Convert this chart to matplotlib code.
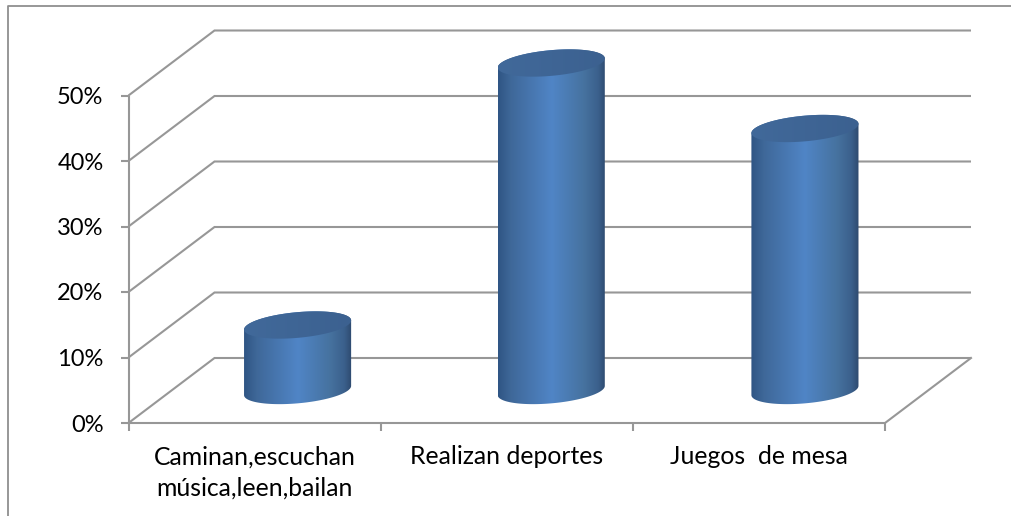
#coding:utf-8

import numpy as np
import matplotlib
matplotlib.use('Agg')
import matplotlib.pyplot as plt
from matplotlib.colors import LinearSegmentedColormap
from matplotlib.lines import Line2D
from matplotlib.patches import Polygon

categories = ['Caminan,escuchan\nmúsica,leen,bailan', 'Realizan deportes', 'Juegos  de mesa']
values = [0.10, 0.50, 0.40]
ticks = [0.0, 0.1, 0.2, 0.3, 0.4, 0.5]
tick_labels = ['0%', '10%', '20%', '30%', '40%', '50%']

W, H = 1011, 516
GRID = '#979797'
LW = 1.5

# pixel frame of the front plane
x0_px, x1_px = 128.5, 885.0
y0_px, y50_px = 423.0, 95.5
px_cat = (x1_px - x0_px) / 3
px_val = (y0_px - y50_px) / 0.5

# depth of the box in data units
depth_x = 86.0 / px_cat
depth_y = 65.0 / px_val

bar_half = 50.4 / px_cat
bar_step = 1.006
round_k = 0.21

body_cmap = LinearSegmentedColormap.from_list('body', [
    (0.0, '#2f5584'), (0.12, '#3f6899'), (0.5, '#5085c6'),
    (0.8, '#46729f'), (0.93, '#3b608c'), (1.0, '#2e4a6e')])
top_cmap = LinearSegmentedColormap.from_list('top', ['#41699a', '#3c6190'])


def ellipse(cx, cy, t):
    bx = depth_x * round_k
    by = depth_y * round_k
    return np.column_stack((cx + bar_half * np.cos(t) + bx * np.sin(t), cy + by * np.sin(t)))


def draw_grid(ax):
    for v in ticks:
        # side wall then back wall
        ax.plot([0, depth_x, 3 + depth_x], [v, v + depth_y, v + depth_y],
                color=GRID, lw=LW, solid_capstyle='butt', solid_joinstyle='miter', zorder=1)
        ax.plot([-8 / px_cat, 0], [v, v], color=GRID, lw=LW, solid_capstyle='butt', zorder=1)
    # floor
    ax.plot([0, 3, 3 + depth_x], [0, 0, depth_y], color=GRID, lw=LW, zorder=1)
    ax.plot([0, 0], [0, ticks[-1]], color=GRID, lw=LW, solid_capstyle='butt', zorder=1)
    for i in range(4):
        ax.plot([i, i], [0, -8 / px_val], color=GRID, lw=LW, solid_capstyle='butt', zorder=1)


def draw_cylinder(ax, i, value):
    cx = i * bar_step + 0.5 + depth_x / 2
    base = depth_y / 2
    t0 = np.arctan2(depth_x * round_k, bar_half)
    low = ellipse(cx, base, np.linspace(t0 + np.pi, t0 + 2 * np.pi, 80))
    up = ellipse(cx, base + value, np.linspace(t0, t0 + np.pi, 80))
    body = Polygon(np.vstack((low, up)), closed=True, fc='none', ec='none', zorder=2)
    ax.add_patch(body)
    left, right = low[:, 0].min(), low[:, 0].max()
    grad = np.linspace(0, 1, 256).reshape(1, -1)
    im = ax.imshow(grad, cmap=body_cmap, extent=(left, right, 0, 1), aspect='auto', zorder=2)
    im.set_clip_path(body)

    lid = Polygon(ellipse(cx, base + value, np.linspace(0, 2 * np.pi, 160)), closed=True,
                  fc='none', ec='none', zorder=3)
    ax.add_patch(lid)
    im2 = ax.imshow(grad, cmap=top_cmap, extent=(left, right, 0, 1), aspect='auto', zorder=3)
    im2.set_clip_path(lid)


def main():
    plt.rcParams['font.family'] = ['Lato', 'DejaVu Sans']
    fig = plt.figure(figsize=(W / 100, H / 100), dpi=100, facecolor='white')
    ax = fig.add_axes([0, 0, 1, 1])
    ax.axis('off')

    draw_grid(ax)
    for i, v in enumerate(values):
        draw_cylinder(ax, i, v)

    for v, lab in zip(ticks, tick_labels):
        ax.text(-25 / px_cat, v - 2 / px_val, lab, ha='right', va='center', fontsize=17, color='black')
    for i, lab in enumerate(categories):
        ax.text(i + 0.5, -22.5 / px_val, lab, ha='center', va='top', fontsize=17.8,
                color='black', linespacing=1.42)

    ax.set_xlim(-x0_px / px_cat, (W - x0_px) / px_cat)
    ax.set_ylim((y0_px - H) / px_val, y0_px / px_val)

    # outer frame, only top and left are visible
    fig.add_artist(Line2D([8 / W, 8 / W, 1], [0, 1 - 6 / H, 1 - 6 / H], color='#8f8f8f', lw=1.3,
                          transform=fig.transFigure))

    fig.savefig('out.png', dpi=100)


if __name__ == '__main__':
    main()
